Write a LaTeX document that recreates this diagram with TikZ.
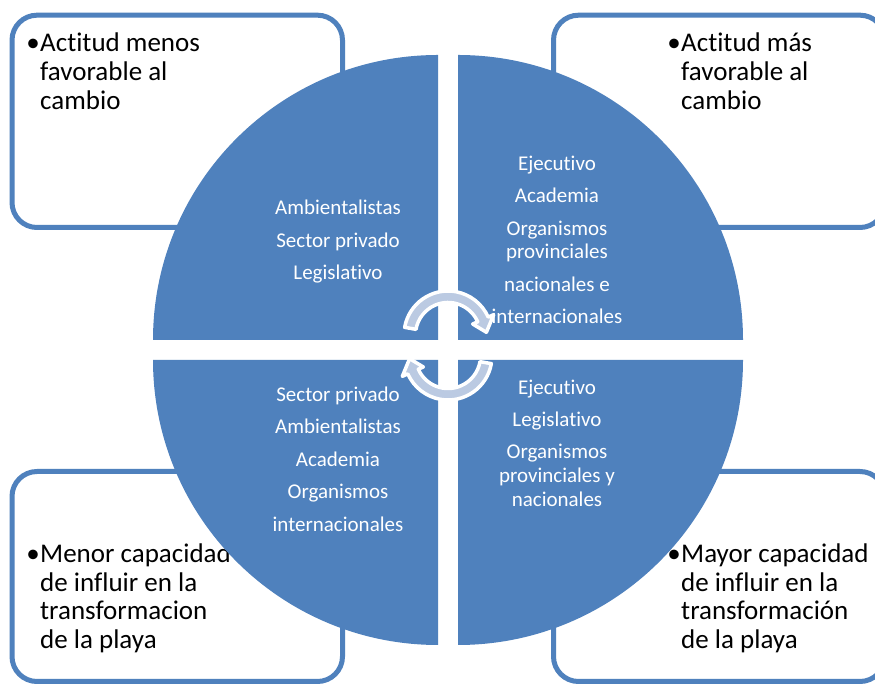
\documentclass[tikz,border=0pt]{standalone}
\usepackage{fontspec}
\setmainfont{Carlito}[Ligatures=NoCommon]
\definecolor{quadblue}{RGB}{79,129,189}
\definecolor{cyclefill}{RGB}{187,202,226}

\begin{document}
\begin{tikzpicture}[x=1pt, y=1pt, box/.style={draw=quadblue, line width=5pt, rounded corners=25pt, fill=white}, boxtext/.style={font=\fontsize{27}{28.7}\selectfont, anchor=base west, inner sep=0pt}, quadtext/.style={font=\fontsize{21}{23}\selectfont, text=white, anchor=base, inner sep=0pt}, quad/.style={fill=quadblue}, cyclearrow/.style={fill=cyclefill, draw=white, line width=3.5pt, line join=round}]
    \clip (0,0) rectangle (875,684);
    \fill[white] (0,0) rectangle (875,684);

    \node[box, minimum width=330.5pt, minimum height=212.3pt] (lowatt) at (177.25,562.65) {};
    \node[box, minimum width=331.5pt, minimum height=212.3pt] (highatt) at (719.25,562.65) {};
    \node[box, minimum width=330.5pt, minimum height=210pt] (lowcap) at (177.25,107.5) {};
    \node[box, minimum width=331.5pt, minimum height=210pt] (highcap) at (719.25,107.5) {};

    \node[boxtext, anchor=base east] (lowattb) at (40,632) {\textbullet};
    \foreach \t [count=\k] in {Actitud menos, favorable al, cambio}
        \node[boxtext] (lowatt\k) at (40,{632-28.7*(\k-1)}) {\t};
    \node[boxtext, anchor=base east] (highattb) at (681,632) {\textbullet};
    \foreach \t [count=\k] in {Actitud más, favorable al, cambio}
        \node[boxtext] (highatt\k) at (681,{632-28.7*(\k-1)}) {\t};
    \node[boxtext, anchor=base east] (lowcapb) at (40,121.5) {\textbullet};
    \foreach \t [count=\k] in {Menor capacidad, de influir en la, transformacion, de la playa}
        \node[boxtext] (lowcap\k) at (40,{121.5-28.7*(\k-1)}) {\t};
    \node[boxtext, anchor=base east] (highcapb) at (681,121.5) {\textbullet};
    \foreach \t [count=\k] in {Mayor capacidad, de influir en la, transformación, de la playa}
        \node[boxtext] (highcap\k) at (681,{121.5-28.7*(\k-1)}) {\t};

    \fill[quad] (438,344) -- ++(-285,0) arc[start angle=180, end angle=90, radius=285] -- cycle;
    \fill[quad] (458,344) -- ++(0,285) arc[start angle=90, end angle=0, radius=285] -- cycle;
    \fill[quad] (438,324) -- ++(0,-285) arc[start angle=270, end angle=180, radius=285] -- cycle;
    \fill[quad] (458,324) -- ++(285,0) arc[start angle=0, end angle=-90, radius=285] -- cycle;

    \foreach \t/\yy [count=\k] in {Ambientalistas/469.4, Sector privado/436.8, Legislativo/404.1}
        \node[quadtext] (tlq\k) at (338,\yy) {\t};
    \foreach \t/\yy [count=\k] in {Ejecutivo/513.5, Academia/481, Organismos/448.2, provinciales/425.4, nacionales e/392.7, internacionales/360}
        \node[quadtext] (trq\k) at (557,\yy) {\t};
    \foreach \t/\yy [count=\k] in {Sector privado/282.5, Ambientalistas/250, Academia/217.6, Organismos/185.4, internacionales/152.7}
        \node[quadtext] (blq\k) at (338,\yy) {\t};
    \foreach \t/\yy [count=\k] in {Ejecutivo/289, Legislativo/257.2, Organismos/225.4, provinciales y/201.7, nacionales/177.2}
        \node[quadtext] (brq\k) at (557,\yy) {\t};

    \coordinate (cu) at (448,349);
    \coordinate (cl) at (448,328);
    \draw[cyclearrow] ([shift={(cu)}]170:44) arc[start angle=170, end angle=24, radius=44] -- ([shift={(cu)}]24:50) -- ([shift={(cu)}]4:38.5) -- ([shift={(cu)}]24:27) -- ([shift={(cu)}]24:32.5) arc[start angle=24, end angle=170, radius=32.5] -- cycle;
    \draw[cyclearrow] ([shift={(cl)}]-10:44) arc[start angle=-10, end angle=-156, radius=44] -- ([shift={(cl)}]-156:50) -- ([shift={(cl)}]-176:38.5) -- ([shift={(cl)}]-156:27) -- ([shift={(cl)}]-156:32.5) arc[start angle=-156, end angle=-10, radius=32.5] -- cycle;
\end{tikzpicture}
\end{document}
